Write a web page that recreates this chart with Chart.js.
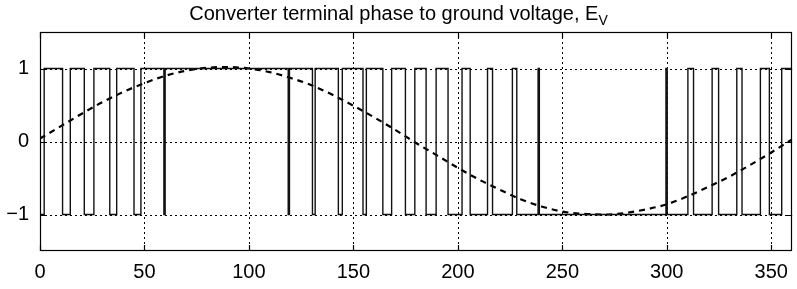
<!DOCTYPE html>
<html><head><meta charset="utf-8">
<script src="https://cdn.jsdelivr.net/npm/chart.js@4/dist/chart.umd.min.js"></script>
<style>
html,body{margin:0;padding:0;background:#fff;}
#wrap{position:relative;width:797px;height:289px;}
#title{position:absolute;left:0;width:797px;top:1px;text-align:center;font-family:'Liberation Sans',Arial,sans-serif;font-size:20px;color:#000;line-height:24px;}
#title sub{font-size:14px;vertical-align:-5px;line-height:0;}
canvas{position:absolute;left:0;top:0;}
</style></head><body>
<div id="wrap"><canvas id="c" width="797" height="289"></canvas>
<div id="title">Converter terminal phase to ground voltage, E<sub>V</sub></div></div>
<script>
// PWM waveform: level at x=0 and the angles (deg) where it switches
const pwmStartLevel = -1;
const pwmSwitchAngles = [2.0, 10.8, 14.5, 21.2, 25.8, 33.4, 36.7, 45.0, 48.3, 59.3, 59.9,
  118.8, 119.4, 130.4, 131.7, 142.8, 144.7, 154.6, 156.2, 164.1, 168.3, 174.9, 179.4,
  184.8, 189.6, 195.3, 202.0, 205.9, 214.2, 216.6, 226.1, 228.2, 238.4, 239.0,
  299.6, 300.2, 310.1, 312.8, 321.7, 324.8, 333.5, 336.0, 344.8, 349.1, 355.0];
const pwmEnd = 360;
// dashed reference (fundamental) curve
const refAngles = [0,10,20,30,40,50,60,70,80,90,100,110,120,130,140,150,160,170,180,
  190,200,210,220,230,240,250,260,270,280,290,300,310,320,330,340,350,360];
const refValues = [0.04,0.21,0.38,0.54,0.68,0.80,0.90,0.97,1.01,1.02,1.00,0.95,0.87,0.77,0.64,0.49,0.33,0.16,-0.02,
  -0.19,-0.36,-0.52,-0.66,-0.79,-0.89,-0.96,-0.99,-1.00,-0.98,-0.93,-0.86,-0.75,-0.62,-0.48,-0.32,-0.15,0.03];
const xTicks = [0,50,100,150,200,250,300,350];
const yTicks = [-1,0,1];

const pwmPts = [];
let lvl = pwmStartLevel;
pwmPts.push({x:0,y:lvl});
for (const t of pwmSwitchAngles){ pwmPts.push({x:t,y:lvl}); lvl=-lvl; pwmPts.push({x:t,y:lvl}); }
pwmPts.push({x:pwmEnd,y:lvl});
const refPts = refAngles.map((a,i)=>({x:a,y:refValues[i]}));

const FONT = "'Liberation Sans',Arial,sans-serif";
const framePlugin = {
  id:'frame',
  beforeDatasetsDraw(chart){
    const {ctx, chartArea:a, scales:{x,y}} = chart;
    ctx.save(); ctx.strokeStyle='#000'; ctx.lineWidth=1; ctx.setLineDash([2,3]);
    for (const v of xTicks){ if(v<=0) continue; const px=Math.round(x.getPixelForValue(v))+0.5;
      ctx.beginPath(); ctx.moveTo(px,a.top); ctx.lineTo(px,a.bottom); ctx.stroke(); }
    for (const v of yTicks){ const py=Math.round(y.getPixelForValue(v))+0.5;
      ctx.beginPath(); ctx.moveTo(a.left,py); ctx.lineTo(a.right,py); ctx.stroke(); }
    ctx.restore();
  },
  afterDatasetsDraw(chart){
    const {ctx, chartArea:a, scales:{x,y}} = chart;
    ctx.save(); ctx.strokeStyle='#000'; ctx.lineWidth=1.2; ctx.setLineDash([]);
    ctx.strokeRect(Math.round(a.left)+0.5, Math.round(a.top)+0.5, Math.round(a.right-a.left)-1, Math.round(a.bottom-a.top)-1);
    const L=6;
    for (const v of xTicks){ const px=Math.round(x.getPixelForValue(v))+0.5;
      ctx.beginPath(); ctx.moveTo(px,a.bottom); ctx.lineTo(px,a.bottom-L); ctx.moveTo(px,a.top); ctx.lineTo(px,a.top+L); ctx.stroke(); }
    for (const v of yTicks){ const py=Math.round(y.getPixelForValue(v))+0.5;
      ctx.beginPath(); ctx.moveTo(a.left,py); ctx.lineTo(a.left+L,py); ctx.moveTo(a.right,py); ctx.lineTo(a.right-L,py); ctx.stroke(); }
    ctx.restore();
  }
};

new Chart(document.getElementById('c'), {
  type:'line',
  data:{datasets:[
    {data:pwmPts, borderColor:'#111', borderWidth:1.4, pointRadius:0, fill:false, tension:0},
    {data:refPts, borderColor:'#000', borderWidth:2.2, borderDash:[6,5], pointRadius:0, fill:false, cubicInterpolationMode:'monotone'}
  ]},
  options:{
    responsive:false, animation:false, devicePixelRatio:1,
    layout:{padding:{top:32,right:2,left:0,bottom:0}},
    plugins:{legend:{display:false}, tooltip:{enabled:false}, title:{display:false}},
    scales:{
      x:{type:'linear', min:0, max:360,
        afterBuildTicks(s){ s.ticks = xTicks.map(v=>({value:v})); },
        afterFit(s){ s.height = 38; },
        grid:{display:false, drawTicks:false}, border:{display:false},
        ticks:{color:'#000', padding:9, maxRotation:0, font:{family:FONT, size:20}, callback:v=>String(v)}},
      y:{type:'linear', min:-1.5, max:1.5,
        afterBuildTicks(s){ s.ticks = yTicks.map(v=>({value:v})); },
        afterFit(s){ s.width = 40; },
        grid:{display:false, drawTicks:false}, border:{display:false},
        ticks:{color:'#000', padding:11, font:{family:FONT, size:20}, callback:v=> v<0 ? '\u2212'+Math.abs(v) : String(v)}}
    }
  },
  plugins:[framePlugin]
});
</script></body></html>
